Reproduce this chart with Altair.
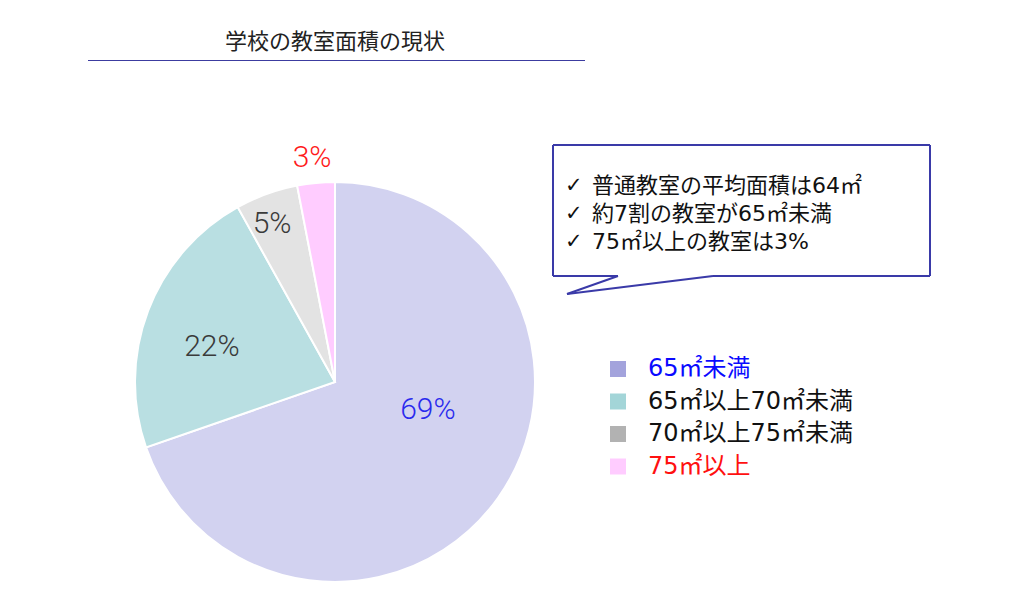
import altair as alt
import pandas as pd

# ---- data ----
categories = ["65㎡未満", "65㎡以上70㎡未満", "70㎡以上75㎡未満", "75㎡以上"]
shares = [69, 22, 5, 3]
pct_labels = ["69%", "22%", "5%", "3%"]
title_text = "学校の教室面積の現状"
notes = ["普通教室の平均面積は64㎡", "約7割の教室が65㎡未満", "75㎡以上の教室は3%"]

# ---- styles ----
pie_colors = ["#d2d2f0", "#b9dfe2", "#e3e3e3", "#ffccff"]
legend_colors = ["#a3a3dc", "#a3d5d8", "#b2b2b2", "#ffccff"]
pct_colors = ["#2a2aee", "#3a3a3a", "#3a3a3a", "#ff1a1a"]
label_radius = {"65㎡未満": 97, "65㎡以上70㎡未満": 128, "70㎡以上75㎡未満": 170, "75㎡以上": 225}
angle_shift = {"65㎡未満": -5.14, "65㎡以上70㎡未満": -1.37, "70㎡以上75㎡未満": -0.47,
               "75㎡以上": -0.11}
JP = "'Noto Sans CJK JP'"
MIX = "'DejaVu Sans', 'Noto Sans CJK JP'"

df = pd.DataFrame({"category": categories, "share": shares, "label": pct_labels,
                   "idx": list(range(len(categories)))})
total = sum(shares)
CX, CY = 327, 374

def case_expr(mapping, default):
    expr = str(default)
    for k, v in mapping.items():
        expr = f"datum.category === '{k}' ? {v} : ({expr})"
    return expr

base = alt.Chart(df)
theta_scale = alt.Scale(domain=[0, total])

pie = base.mark_arc(outerRadius=200, stroke="white", strokeWidth=2).encode(
    theta=alt.Theta("share:Q", stack=True, scale=theta_scale),
    color=alt.Color("category:N", scale=alt.Scale(domain=categories, range=pie_colors), legend=None),
    order=alt.Order("idx:Q"),
    x=alt.value(CX), y=alt.value(CY),
)

pct = base.transform_window(
    cum="sum(share)", sort=[alt.SortField("idx")], frame=[None, 0]
).transform_calculate(
    mid=f"datum.cum - datum.share / 2 + ({case_expr(angle_shift, 0)})",
    r=case_expr(label_radius, 120),
).mark_text(font="Roboto", fontWeight=300, fontSize=30).encode(
    theta=alt.Theta("mid:Q", scale=theta_scale),
    radius=alt.Radius("r:Q", scale=None),
    text="label:N",
    color=alt.Color("category:N", scale=alt.Scale(domain=categories, range=pct_colors), legend=None),
    x=alt.value(CX), y=alt.value(CY),
)

label_color_expr = ("datum.value === '65㎡未満' ? '#0a0aff' : "
                    "(datum.value === '75㎡以上' ? '#ff1010' : '#111111')")

legend_layer = base.mark_square(opacity=0).encode(
    color=alt.Color(
        "category:N",
        scale=alt.Scale(domain=categories, range=legend_colors),
        legend=alt.Legend(
            orient="none", legendX=598, legendY=349, title=None, padding=0,
            symbolType="square", symbolSize=256, symbolOpacity=1, symbolStrokeWidth=0,
            labelFont=MIX, labelFontSize=24, labelOffset=18, rowPadding=8.5,
            labelColor={"expr": label_color_expr}, labelLimit=400,
        ),
    ),
    x=alt.value(CX), y=alt.value(CY),
)

one = alt.Chart(pd.DataFrame({"k": [0]}))

title = one.mark_text(font=JP, fontSize=22, color="#222222").encode(
    x=alt.value(327), y=alt.value(34), text=alt.value(title_text))
underline = one.mark_rule(color="#3c3ca0", strokeWidth=1).encode(
    x=alt.value(80), x2=alt.value(577), y=alt.value(52.5))

box_col = "#3a3aa8"
def seg(x1, y1, x2, y2):
    return one.mark_rule(color=box_col, strokeWidth=2).encode(
        x=alt.value(x1), x2=alt.value(x2), y=alt.value(y1), y2=alt.value(y2))

L, T, R, B = 545, 137, 922, 268
callout = [
    seg(L, T, R, T), seg(L, T, L, B), seg(R, T, R, B),
    seg(L, B, 610, B), seg(705, B, R, B),
    seg(610, B, 559, 286), seg(559, 286, 705, B),
]

checks = one.mark_text(font="'DejaVu Sans'", fontSize=21, fontWeight="bold", align="left",
                       baseline="middle", lineBreak="\n", lineHeight=28, color="#111111").encode(
    x=alt.value(557), y=alt.value(178), text=alt.value("\n".join(["✓"] * len(notes))))
note_text = one.mark_text(font=MIX, fontSize=22, align="left", baseline="middle",
                          lineBreak="\n", lineHeight=28, color="#111111").encode(
    x=alt.value(584), y=alt.value(178), text=alt.value("\n".join(notes)))

chart = alt.layer(
    pie, pct, legend_layer, title, underline, *callout, checks, note_text
).resolve_scale(color="independent").properties(
    width=1008, height=596, padding=0, autosize=alt.AutoSizeParams(type="none"),
    background="white",
).configure_view(stroke=None)

chart.save("out.html", embed_options={"renderer": "svg", "actions": False})
